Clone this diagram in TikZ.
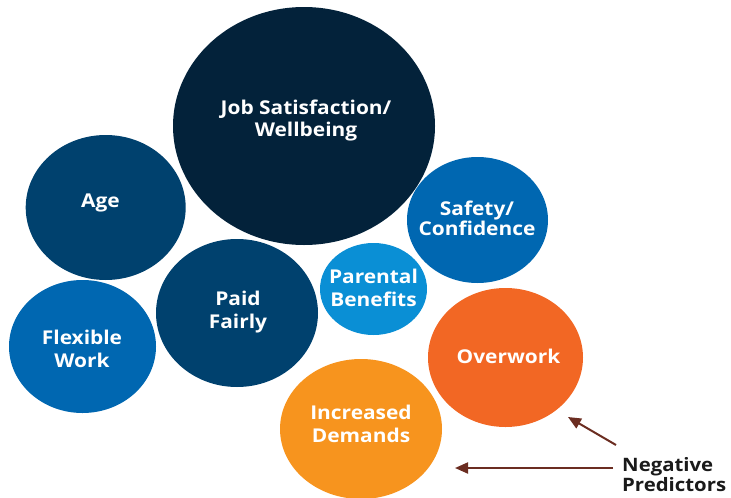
\documentclass[tikz,border=0pt]{standalone}
\usepackage{fontspec}
\newfontfamily\lbl[FakeStretch=1.1]{Open Sans}
\usetikzlibrary{shapes.geometric,arrows.meta}
\definecolor{cnavy}{HTML}{03223A}
\definecolor{cdark}{HTML}{00416E}
\definecolor{cmid}{HTML}{0067B1}
\definecolor{clight}{HTML}{0A8FD5}
\definecolor{corange}{HTML}{F26724}
\definecolor{cyellow}{HTML}{F7941E}
\definecolor{carrow}{HTML}{6B2D21}
\definecolor{ctext}{HTML}{1A1A1A}
\begin{document}
\begin{tikzpicture}[x=1pt,y=-1pt,
  bub/.style={ellipse, draw=none, inner sep=0pt},
  txt/.style={text=white, font=\lbl\bfseries\fontsize{19}{22.5}\selectfont, align=center, inner sep=0pt},
  neg/.style={-{Triangle[length=13pt,width=11pt]}, line width=2pt, draw=carrow}]
\useasboundingbox (0,0) rectangle (731,498);
% bubbles
\node[bub, fill=cnavy, minimum width=262pt, minimum height=238pt] (job) at (304,126) {};
\node[bub, fill=cdark, minimum width=160pt, minimum height=145pt] (age) at (105.7,207.5) {};
\node[bub, fill=cmid, minimum width=141pt, minimum height=126pt] (safe) at (477.5,220) {};
\node[bub, fill=cdark, minimum width=162pt, minimum height=148pt] (paid) at (237,313) {};
\node[bub, fill=clight, minimum width=107pt, minimum height=92pt] (par) at (373.5,289) {};
\node[bub, fill=cmid, minimum width=147pt, minimum height=133pt] (flex) at (82.5,346.5) {};
\node[bub, fill=corange, minimum width=155pt, minimum height=139pt] (over) at (505.5,357.5) {};
\node[bub, fill=cyellow, minimum width=162pt, minimum height=140pt] (inc) at (361,429) {};
% labels
\node[txt] (jobt) at (306,120.5) {Job Satisfaction/\\Wellbeing};
\node[txt] (aget) at (100.5,202.5) {Age};
\node[txt, font=\lbl\bfseries\fontsize{19}{18}\selectfont] (safet) at (477,218) {Safety/\\Confidence};
\node[txt] (paidt) at (238,312) {Paid\\Fairly};
\node[txt] (part) at (373.5,288) {Parental\\Benefits};
\node[txt] (flext) at (82,349) {Flexible\\Work};
\node[txt] (overt) at (508.5,356) {Overwork};
\node[txt] (inct) at (361,424) {Increased\\Demands};
% negative predictors
\node[anchor=north west, align=left, inner sep=0pt, text=ctext,
      font=\lbl\bfseries\fontsize{18.5}{20}\selectfont] (negt) at (622,457.5) {Negative\\Predictors};
\coordinate (a1s) at (616,445);
\coordinate (a1e) at (568,417);
\coordinate (a2s) at (613,468);
\coordinate (a2e) at (455,468);
\draw[neg] (a1s) -- (a1e);
\draw[neg] (a2s) -- (a2e);
\end{tikzpicture}
\end{document}
